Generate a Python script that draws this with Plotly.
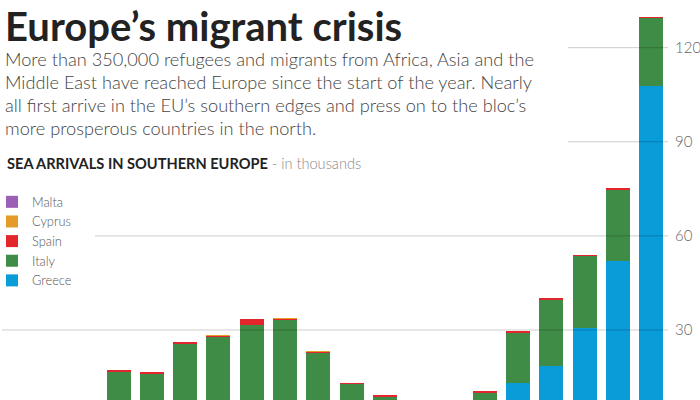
import plotly.graph_objects as go

months = ["Jan 2014", "Feb 2014", "Mar 2014", "Apr 2014", "May 2014", "Jun 2014",
          "Jul 2014", "Aug 2014", "Sep 2014", "Oct 2014", "Nov 2014", "Dec 2014",
          "Jan 2015", "Feb 2015", "Mar 2015", "Apr 2015", "May 2015", "Jun 2015",
          "Jul 2015", "Aug 2015"]

greece = [0.9, 1.3, 1.9, 2.3, 3.3, 3.7, 4.3, 6.7, 7.0, 6.0, 3.4, 2.0,
          1.7, 2.9, 7.0, 13.2, 18.6, 30.7, 52.0, 107.9]
italy = [2.2, 3.3, 5.0, 14.4, 12.8, 22.1, 23.6, 24.9, 26.4, 16.9, 9.5, 6.8,
         3.5, 4.3, 3.0, 16.0, 21.0, 22.9, 22.9, 21.7]
spain = [0.1, 0.1, 0.1, 0.3, 0.4, 0.3, 0.3, 1.8, 0.3, 0.2, 0.2, 0.2,
         0.1, 0.1, 0.3, 0.3, 0.5, 0.3, 0.4, 0.1]
cyprus = [0.0, 0.0, 0.0, 0.0, 0.0, 0.0, 0.05, 0.0, 0.1, 0.2, 0.0, 0.0,
          0.0, 0.0, 0.0, 0.0, 0.0, 0.0, 0.0, 0.0]
malta = [0.0, 0.0, 0.0, 0.0, 0.0, 0.0, 0.0, 0.0, 0.0, 0.0, 0.0, 0.0,
         0.0, 0.0, 0.0, 0.0, 0.0, 0.0, 0.0, 0.0]

tick_vals = [30, 60, 90, 120]
tick_text = ["30", "60", "90", "120"]

title = "Europe\u2019s migrant crisis"
intro_lines = [
    "More than 350,000 refugees and migrants from Africa, Asia and the",
    "Middle East have reached Europe since the start of the year. Nearly",
    "all first arrive in the EU\u2019s southern edges and press on to the bloc\u2019s",
    "more prosperous countries in the north.",
]
subtitle_bold = "SEA ARRIVALS IN SOUTHERN EUROPE"
subtitle_light = " - in thousands"

series = [
    ("Greece", greece, "#0a9bd9"),
    ("Italy", italy, "#3f8c46"),
    ("Spain", spain, "#e2262b"),
    ("Cyprus", cyprus, "#e49b27"),
    ("Malta", malta, "#9b5fb5"),
]

W, H = 700, 400
ML, MR = 2, 32
PW = W - ML - MR


def px_x(px):
    return (px - ML) / PW


def px_y(py):
    return 1 - py / H


fig = go.Figure()
for name, vals, col in series:
    fig.add_trace(go.Bar(x=months, y=vals, name=name, marker_color=col,
                         marker_line_width=0, hoverinfo="skip"))

FONT = "Lato"

annotations = [
    dict(text=f"<b>{title}</b>", x=px_x(3), y=px_y(0), xanchor="left", yanchor="top",
         font=dict(family=FONT, size=40, color="#222222")),
]
for i, line in enumerate(intro_lines):
    annotations.append(dict(text=line, x=px_x(3), y=px_y(59 + i * 23),
                            xanchor="left", yanchor="middle",
                            font=dict(family=FONT, size=18.2, color="#444444", weight=300)))
annotations.append(dict(
    text=f"<b>{subtitle_bold}</b><span style='color:#888888;font-weight:300'>{subtitle_light}</span>",
    x=px_x(5), y=px_y(163), xanchor="left", yanchor="middle",
    font=dict(family=FONT, size=14.6, color="#222222")))
for a in annotations:
    a.update(xref="paper", yref="paper", showarrow=False)

grid_starts = [2, 95, 568, 568]
shapes = []
for v, s in zip(tick_vals, grid_starts):
    shapes.append(dict(type="line", xref="paper", yref="y", x0=px_x(s), x1=1,
                       y0=v, y1=v, line=dict(color="rgba(0,0,0,0.2)", width=1),
                       layer="above"))

fig.update_layout(
    width=W, height=H,
    margin=dict(l=ML, r=MR, t=0, b=0, pad=0, autoexpand=False),
    paper_bgcolor="white", plot_bgcolor="white",
    barmode="stack", bargap=0.28,
    hovermode=False,
    showlegend=True,
    legend=dict(traceorder="reversed", x=0, y=px_y(187), xanchor="left",
                yanchor="top", indentation=-10,
                font=dict(family=FONT, size=12.8, color="#555555", weight=300),
                bgcolor="rgba(0,0,0,0)", itemclick=False, tracegroupgap=0),
    xaxis=dict(type="category", range=[-0.5, len(months) - 0.5], showticklabels=False,
               showgrid=False, zeroline=False, showline=False, ticks="", fixedrange=True),
    yaxis=dict(side="right", range=[7.68, 135.2], tickvals=tick_vals, ticktext=tick_text,
               showgrid=False, zeroline=False, showline=False, ticks="",
               ticklabelstandoff=6, fixedrange=True,
               tickfont=dict(family=FONT, size=15, color="#666666", weight=300)),
    annotations=annotations,
    shapes=shapes,
)

fig.write_html("out.html", config={"displayModeBar": False},
               post_script="document.body.style.margin='0';")
